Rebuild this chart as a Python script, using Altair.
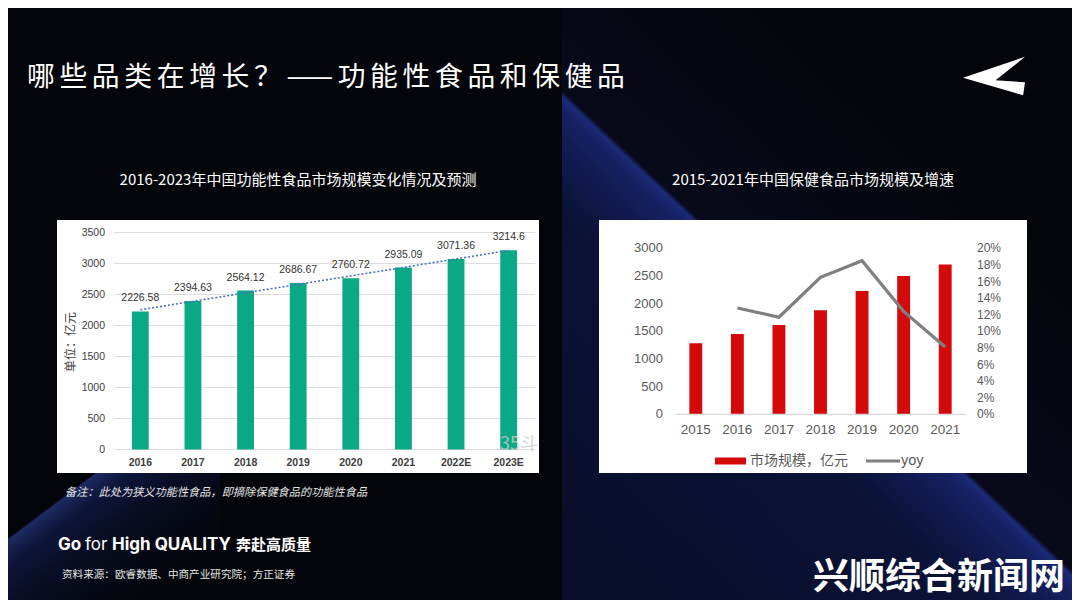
import altair as alt
import pandas as pd

# ---------------- data ----------------
func_years = ["2016", "2017", "2018", "2019", "2020", "2021", "2022E", "2023E"]
func_values = [2226.58, 2394.63, 2564.12, 2686.67, 2760.72, 2935.09, 3071.36, 3214.6]
func_labels = ["2226.58", "2394.63", "2564.12", "2686.67", "2760.72", "2935.09", "3071.36", "3214.6"]
func_idx = [0, 1, 2, 3, 4, 5, 6, 7]
func_yticks = [0, 500, 1000, 1500, 2000, 2500, 3000, 3500]

hf_years = ["2015", "2016", "2017", "2018", "2019", "2020", "2021"]
hf_values = [1283, 1451, 1614, 1880, 2228, 2500, 2705]
hf_yoy = [None, 0.128, 0.117, 0.165, 0.185, 0.124, 0.081]
hf_yticks = [0, 500, 1000, 1500, 2000, 2500, 3000]
hf_pticks = [0, 0.02, 0.04, 0.06, 0.08, 0.10, 0.12, 0.14, 0.16, 0.18, 0.20]

func_df = pd.DataFrame({"year": func_years, "value": func_values, "label": func_labels, "idx": func_idx})
func_tick_df = pd.DataFrame({"v": func_yticks})
func_year_df = pd.DataFrame({"year": func_years})
hf_df = pd.DataFrame({"year": hf_years, "value": hf_values, "yoy": hf_yoy})
hf_tick_df = pd.DataFrame({"v": hf_yticks})
hf_ptick_df = pd.DataFrame({"p": hf_pticks})
ONE = pd.DataFrame({"a": [0]})

# ---------------- geometry helpers ----------------
W, H = 1064, 592
OX, OY = 8, 8


def X(v):
    return v - OX


def Y(v):
    return v - OY


CJK = "Noto Sans CJK SC"
LAT = "Liberation Sans"


def txt(s, x, y, size, color="white", align="left", baseline="middle",
        weight="normal", font=CJK, style=None, angle=None, opacity=1.0):
    kw = dict(text=s, fontSize=size, color=color, align=align, baseline=baseline,
              fontWeight=weight, font=font, opacity=opacity)
    if style:
        kw["fontStyle"] = style
    if angle is not None:
        kw["angle"] = angle
    return alt.Chart(ONE).mark_text(**kw).encode(x=alt.value(X(x)), y=alt.value(Y(y)))


def box(x0, x1, y0, y1, color, opacity=1.0):
    return alt.Chart(ONE).mark_rect(color=color, opacity=opacity).encode(
        x=alt.value(X(x0)), x2=alt.value(X(x1)), y=alt.value(Y(y0)), y2=alt.value(Y(y1)))


layers = []

# ---------------- background ----------------
wedge = {
    "gradient": "linear", "x1": -0.378, "y1": 0.613, "x2": 0.252, "y2": -0.164,
    "stops": [
        {"offset": 0.0, "color": "#090e2a"},
        {"offset": 0.45, "color": "#0b1236"},
        {"offset": 0.58, "color": "#152163"},
        {"offset": 0.598, "color": "#1c2a78"},
        {"offset": 0.606, "color": "#080a1a"},
        {"offset": 1.0, "color": "#04050b"},
    ],
}
layers.append(alt.Chart(ONE).mark_rect(color=wedge).encode(
    x=alt.value(X(562)), x2=alt.value(W), y=alt.value(0), y2=alt.value(H)))

band = {
    "gradient": "linear", "x1": -0.187, "y1": 0.465, "x2": 0.436, "y2": 1.247,
    "stops": [
        {"offset": 0.0, "color": "rgba(0,0,0,0)"},
        {"offset": 0.29, "color": "rgba(0,0,0,0)"},
        {"offset": 0.30, "color": "rgba(50,75,170,0.55)"},
        {"offset": 0.40, "color": "rgba(25,40,115,0.45)"},
        {"offset": 0.70, "color": "rgba(15,25,75,0.22)"},
        {"offset": 1.0, "color": "rgba(10,15,40,0)"},
    ],
}
layers.append(alt.Chart(ONE).mark_rect(color=band).encode(
    x=alt.value(0), x2=alt.value(X(220)), y=alt.value(Y(400)), y2=alt.value(H)))

# ---------------- slide texts ----------------
TITLE_TOKENS = ["哪", "些", "品", "类", "在", "增", "长", "？", "——", "功", "能", "性",
                "食", "品", "和", "保", "健", "品"]
SP = "\u2006"
layers.append(txt(SP.join(TITLE_TOKENS), 27, 78, 27.8))
layers.append(alt.Chart(ONE).mark_point(
    shape="M -1 0.06 L 1 -0.62 L 0.05 0.14 L 1 0.2 L 0.94 0.62 Z",
    filled=True, color="white", opacity=1, size=3844, strokeWidth=0
).encode(x=alt.value(X(994)), y=alt.value(Y(76))))

layers.append(txt("2016-2023年中国功能性食品市场规模变化情况及预测", 298, 180, 15, align="center"))
layers.append(txt("2015-2021年中国保健食品市场规模及增速", 813, 180, 15, align="center"))

# ---------------- panels ----------------
layers.append(box(57, 539, 220, 473, "white"))
layers.append(box(599, 1027, 220, 473, "white"))

# ---------------- left chart ----------------
L_x0, L_x1 = X(114), X(535)
L_step = (L_x1 - L_x0) / 8
L_y = alt.Scale(domain=[0, 3500], range=[Y(449.5), Y(232.5)], nice=False, zero=False)
L_band = alt.Scale(domain=func_years, range=[L_x0, L_x1], paddingInner=0.68, paddingOuter=0.34)
L_pt = alt.Scale(type="point", domain=func_years, range=[L_x0 + L_step / 2, L_x1 - L_step / 2], padding=0)
L_lin = alt.Scale(domain=[0, 7], range=[L_x0 + L_step / 2, L_x1 - L_step / 2], nice=False, zero=False)

layers.append(alt.Chart(func_tick_df).mark_rule(color="#dedede", strokeWidth=1).encode(
    y=alt.Y("v:Q", scale=L_y, axis=None), x=alt.value(L_x0), x2=alt.value(L_x1)))
layers.append(alt.Chart(func_tick_df).mark_text(
    align="right", baseline="middle", fontSize=10.5, color="#404040", font=LAT).encode(
    y=alt.Y("v:Q", scale=L_y, axis=None), x=alt.value(X(105)), text="v:Q"))
layers.append(alt.Chart(func_df).mark_bar(color="#0aa884").encode(
    x=alt.X("year:N", scale=L_band, axis=None, sort=func_years),
    y=alt.Y("value:Q", scale=L_y, axis=None)))
layers.append(alt.Chart(func_df).transform_regression("idx", "value", extent=[0, 7]).mark_line(
    color="#4a72c0", strokeWidth=1.6, strokeDash=[2, 2]).encode(
    x=alt.X("idx:Q", scale=L_lin, axis=None),
    y=alt.Y("value:Q", scale=L_y, axis=None)))
layers.append(alt.Chart(func_df).mark_text(
    baseline="middle", align="center", dy=-13, fontSize=10.5, color="#333333", font=LAT).encode(
    x=alt.X("year:N", scale=L_pt, axis=None, sort=func_years),
    y=alt.Y("value:Q", scale=L_y, axis=None), text="label:N"))
layers.append(alt.Chart(func_year_df).mark_text(
    baseline="middle", align="center", fontSize=10.5, color="#404040", font=LAT, fontWeight="bold").encode(
    x=alt.X("year:N", scale=L_pt, axis=None, sort=func_years), y=alt.value(Y(463)), text="year:N"))
layers.append(txt("单位：亿元", 71, 342, 12, color="#404040", align="center", angle=270))
layers.append(txt("35斗", 519, 445, 18, color="#cccccc", align="center", opacity=0.8))

# ---------------- right chart ----------------
R_x0, R_x1 = X(675), X(966)
R_step = (R_x1 - R_x0) / 7
R_y = alt.Scale(domain=[0, 3000], range=[Y(414.3), Y(248.3)], nice=False, zero=False)
R_p = alt.Scale(domain=[0, 0.2], range=[Y(414.3), Y(248.3)], nice=False, zero=False)
R_band = alt.Scale(domain=hf_years, range=[R_x0, R_x1], paddingInner=0.69, paddingOuter=0.345)
R_pt = alt.Scale(type="point", domain=hf_years, range=[R_x0 + R_step / 2, R_x1 - R_step / 2], padding=0)

layers.append(alt.Chart(hf_df).mark_bar(color="#d40a0a").encode(
    x=alt.X("year:N", scale=R_band, axis=None, sort=hf_years),
    y=alt.Y("value:Q", scale=R_y, axis=None)))
layers.append(alt.Chart(pd.DataFrame({"v": [0]})).mark_rule(color="#d9d9d9", strokeWidth=1.2).encode(
    y=alt.Y("v:Q", scale=R_y, axis=None), x=alt.value(R_x0), x2=alt.value(R_x1)))
layers.append(alt.Chart(hf_df).transform_filter("isValid(datum.yoy)").mark_line(
    color="#7f7f7f", strokeWidth=3.2, strokeJoin="miter").encode(
    x=alt.X("year:N", scale=R_pt, axis=None, sort=hf_years),
    y=alt.Y("yoy:Q", scale=R_p, axis=None)))
layers.append(alt.Chart(hf_tick_df).mark_text(
    align="right", baseline="middle", fontSize=13, color="#595959", font=LAT).encode(
    y=alt.Y("v:Q", scale=R_y, axis=None), x=alt.value(X(663)), text="v:Q"))
layers.append(alt.Chart(hf_ptick_df).mark_text(
    align="left", baseline="middle", fontSize=12, color="#595959", font=LAT).encode(
    y=alt.Y("p:Q", scale=R_p, axis=None), x=alt.value(X(977)),
    text=alt.Text("p:Q", format=".0%")))
layers.append(alt.Chart(hf_df).mark_text(
    baseline="middle", align="center", fontSize=13.5, color="#595959", font=LAT).encode(
    x=alt.X("year:N", scale=R_pt, axis=None, sort=hf_years), y=alt.value(Y(429.5)), text="year:N"))

# legend
layers.append(box(715, 746, 457.5, 464.5, "#d40a0a"))
layers.append(txt("市场规模，亿元", 750, 461, 14, color="#595959"))
layers.append(alt.Chart(ONE).mark_rule(color="#7f7f7f", strokeWidth=3.2).encode(
    x=alt.value(X(866)), x2=alt.value(X(900)), y=alt.value(Y(461))))
layers.append(txt("yoy", 901, 461, 14.5, color="#595959", font=LAT))

# ---------------- footer texts ----------------
layers.append(txt("备注：此处为狭义功能性食品，即摘除保健食品的功能性食品", 65, 493, 11.2,
                  color="#e6e6e6", style="italic"))
layers.append(txt("Go", 58, 545, 17, weight="bold", font="Inter"))
layers.append(txt("for", 85, 545, 17, weight="normal", font="Inter"))
layers.append(txt("High QUALITY", 112, 545, 17, weight="bold", font="Inter"))
layers.append(txt("奔赴高质量", 236, 545, 15, weight="bold"))
layers.append(txt("资料来源：欧睿数据、中商产业研究院；方正证券", 62, 575, 10.6, color="#e6e6e6"))
layers.append(txt("兴顺综合新闻网", 813, 578, 36, weight="bold", align="left"))

chart = alt.layer(*layers).resolve_scale(x="independent", y="independent").properties(
    width=W, height=H, padding=0,
    autosize=alt.AutoSizeParams(type="none"),
    background="#04050a",
).configure_view(stroke=None)

chart.save("out.html", embed_options={"renderer": "svg", "actions": False})
